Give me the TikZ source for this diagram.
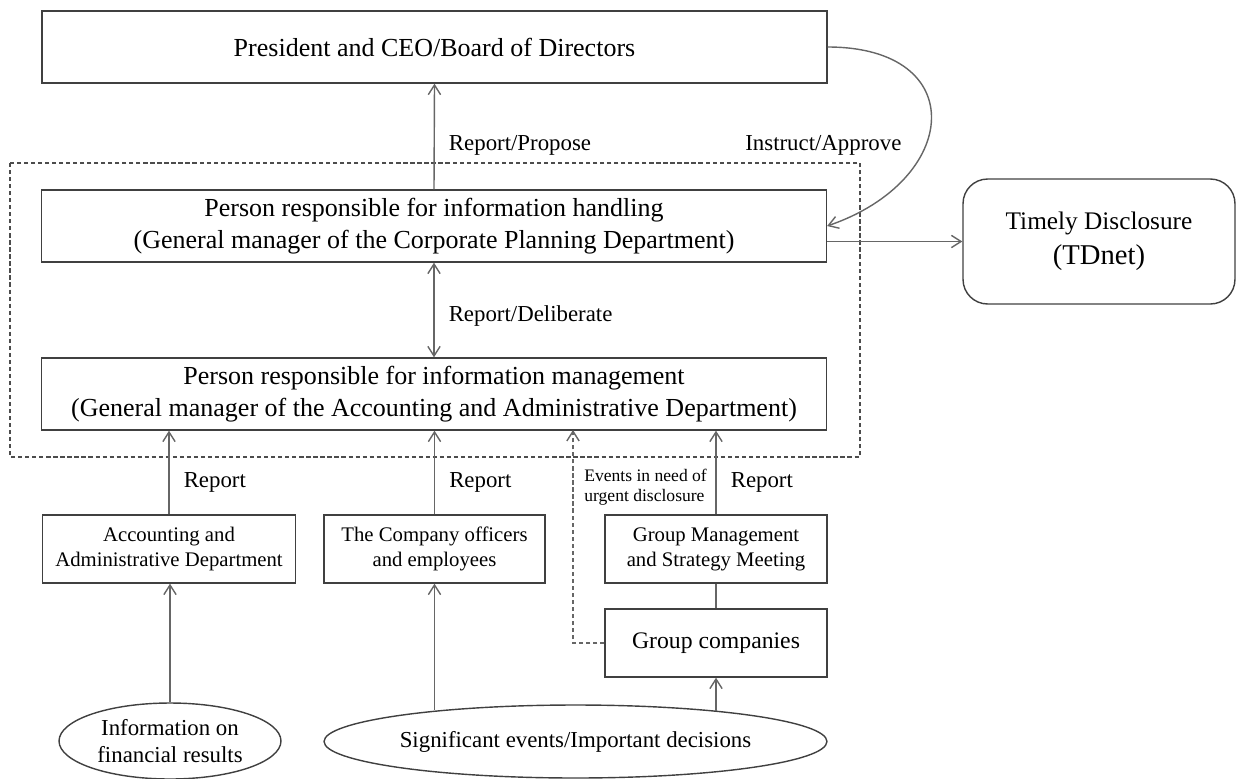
\documentclass[tikz,border=0pt]{standalone}
\usepackage{fontspec}
\setmainfont{Liberation Serif}
\usetikzlibrary{arrows.meta,shapes.geometric}

\begin{document}
\begin{tikzpicture}[x=0.02cm,y=-0.02cm,>={Straight Barb[length=5.5pt,width=7pt]},
  box/.style={draw=black!75,line width=0.8pt,inner sep=0pt,align=center},
  bigbox/.style={box,minimum width=15.7cm,minimum height=1.44cm,font=\fontsize{14.8}{18}\selectfont},
  smallbox/.style={box,minimum height=1.36cm,font=\fontsize{11.8}{14.2}\selectfont},
  oval/.style={box,ellipse,font=\fontsize{13}{15.4}\selectfont},
  link/.style={draw=black!60,line width=0.8pt},
  lbl/.style={anchor=west,inner sep=0pt,xshift=8pt,font=\fontsize{13}{15}\selectfont}]
\useasboundingbox (0,0) rectangle (1238,778);

\draw[black!70,line width=0.6pt,dash pattern=on 2.4pt off 1.6pt] (10,163) rectangle (860,457);

\node[bigbox] (ceo) at (434.5,47) {President and CEO/Board of Directors};
\node[bigbox] (handle) at (434,226) {Person responsible for information handling\\(General manager of the Corporate Planning Department)};
\node[bigbox] (manage) at (434,394) {Person responsible for information management\\(General manager of the Accounting and Administrative Department)};
\node[box,rounded corners=14pt,minimum width=5.44cm,minimum height=2.5cm,font=\fontsize{14.4}{20}\selectfont] (tdnet) at (1099,241.5) {Timely Disclosure\\{\fontsize{16.3}{20}\selectfont(TDnet)}};

\node[smallbox,minimum width=5.06cm] (acct) at (169,549) {Accounting and\\Administrative Department};
\node[smallbox,minimum width=4.42cm] (staff) at (434.5,549) {The Company officers\\and employees};
\node[smallbox,minimum width=4.44cm] (gmsm) at (716,549) {Group Management\\and Strategy Meeting};
\node[smallbox,minimum width=4.44cm,font=\fontsize{13.5}{16}\selectfont] (gcomp) at (716,643) {Group companies};

\node[oval,minimum width=4.44cm,minimum height=1.52cm] (ell1) at (170,741) {Information on\\financial results};
\node[oval,minimum width=10.06cm,minimum height=1.46cm] (ell2) at (575.5,741.5) {Significant events/Important decisions};

\node[lbl,xshift=-8pt] (instr) at (745,145) {Instruct/Approve};
\node[lbl,xshift=-8pt,align=left,font=\fontsize{10}{11.5}\selectfont] (urgent) at (584,487) {Events in need of\\urgent disclosure};
\coordinate (urg) at (573,430);

\draw[link,->] (handle.north) -- node[lbl,pos=0.42]{Report/Propose} (ceo.south);
\draw[link,->] (ceo.east) .. controls +(143,0) and +(134,-46) .. (handle.east);
\draw[link,->] (handle.east |- tdnet.west) -- (tdnet.west);
\draw[link,<->] (handle.south) -- node[lbl,pos=0.56]{Report/Deliberate} (manage.north);

\draw[link,->] (acct.north) -- node[lbl,pos=0.38]{Report} (acct.north |- manage.south);
\draw[link,->] (staff.north) -- node[lbl,pos=0.38]{Report} (staff.north |- manage.south);
\draw[link,->] (gmsm.north) -- node[lbl,pos=0.38]{Report} (gmsm.north |- manage.south);
\draw[link,dash pattern=on 2.4pt off 1.6pt,->] (gcomp.west) -| (urg);
\draw[link] (gmsm.south) -- (gcomp.north);

\draw[link,->] (ell1.north) -- (ell1.north |- acct.south);
\draw[link,->] (ell2.167.75 -| staff.south) -- (staff.south);
\draw[link,->] (ell2.12.25 -| gcomp.south) -- (gcomp.south);
\end{tikzpicture}
\end{document}
